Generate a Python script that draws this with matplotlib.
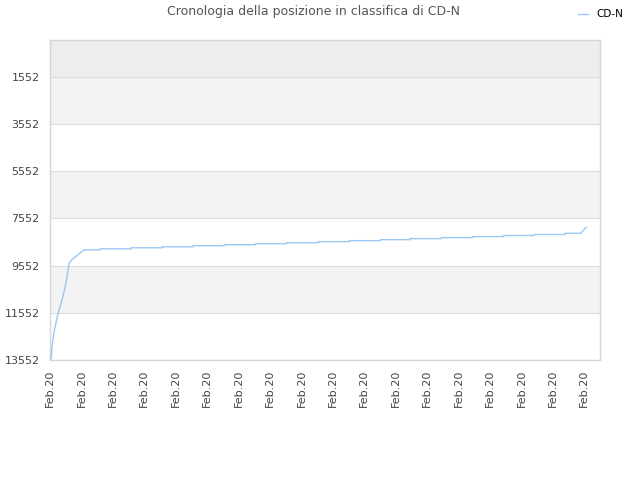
import numpy as np
import matplotlib.pyplot as plt

# Ranking history of CD-N (lower number = better position)
# x is measured in label intervals (one "Feb.20" label per unit)
ascent_x = [0.03, 0.07, 0.14, 0.26, 0.40, 0.51, 0.61, 0.69, 0.96, 1.09]
ascent_rank = [13552, 12916, 12280, 11559, 10923, 10287, 9439, 9312, 9015, 8888]

step_x = [1.59, 2.58, 3.57, 4.55, 5.54, 6.53, 7.52, 8.54, 9.52, 10.51,
          11.46, 12.45, 13.44, 14.43, 15.41, 16.40]
step_rank = [8845, 8800, 8757, 8713, 8670, 8628, 8585, 8541, 8498, 8455,
             8412, 8368, 8325, 8280, 8236, 8185]

final_x = [16.88, 17.07]
final_rank = [8185, 7925]

tick_labels = ["Feb.20"] * 18
y_ticks = [1552, 3552, 5552, 7552, 9552, 11552, 13552]

# build the polyline: sloped ascent, then flat levels with small jumps
xs = list(ascent_x)
ys = list(ascent_rank)
level = ascent_rank[-1]
for sx, sr in zip(step_x, step_rank):
    xs += [sx, sx]
    ys += [level, sr]
    level = sr
xs += final_x
ys += final_rank

fig = plt.figure(figsize=(6.4, 4.8), dpi=100)
ax = fig.add_axes([50 / 640, 120 / 480, 550 / 640, 320 / 480])

# alternating bands
ax.axhspan(0, 1552, color="#ededed", zorder=0, lw=0)
for lo in [1552, 5552, 9552]:
    ax.axhspan(lo, lo + 2000, color="#f3f3f3", zorder=0, lw=0)
for yt in y_ticks:
    ax.axhline(yt, color="#dddddd", lw=0.8, zorder=1)

ax.plot(xs, ys, color="#99c8f5", lw=1.0, zorder=3, label="CD-N")

ax.set_xlim(0, 17.5)
ax.set_ylim(13552, 0)
ax.set_yticks(y_ticks)
ax.set_yticklabels([str(v) for v in y_ticks], fontsize=8, color="#444444")
ax.set_xticks(np.arange(len(tick_labels)))
ax.set_xticklabels(tick_labels, rotation=90, fontsize=8, color="#444444")
ax.tick_params(axis="y", length=0, pad=7.5)
ax.tick_params(axis="x", length=0, pad=7)

for s in ax.spines.values():
    s.set_color("#d6d6d6")
    s.set_linewidth(1)

fig.text(0.49, 1 - 12 / 480, "Cronologia della posizione in classifica di CD-N",
         ha="center", va="center", fontsize=9, color="#555555")

leg = fig.legend(loc="upper right", bbox_to_anchor=(0.989, 1.0), frameon=False,
                 fontsize=7.5, handlelength=1.0, handletextpad=0.8)

fig.savefig("out.png", dpi=100)
